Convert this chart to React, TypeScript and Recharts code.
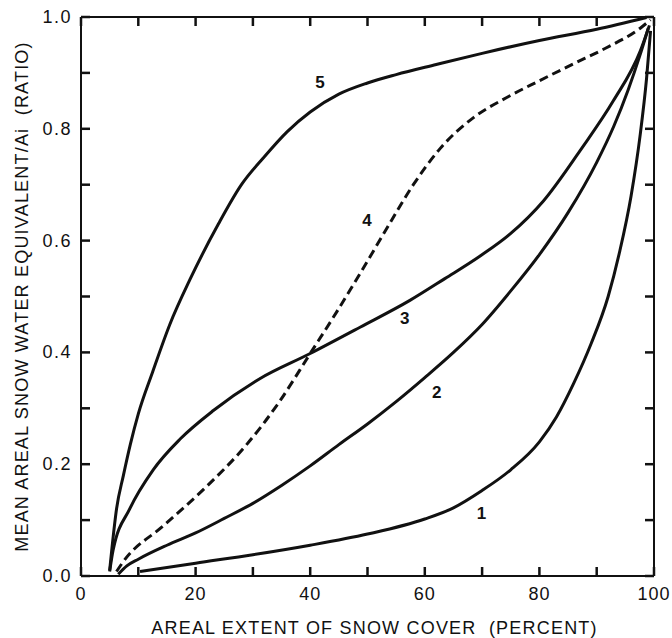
import { ComposedChart, Line, Scatter, XAxis, YAxis } from 'recharts';

// curve points: [areal extent %, ratio]
const curve1 = [
  [10.3, 0.008], [20, 0.023], [30, 0.038], [40, 0.055], [50, 0.075], [60, 0.102],
  [65, 0.122], [70, 0.153], [75, 0.19], [80, 0.24], [83, 0.285], [86, 0.345],
  [89, 0.415], [92, 0.5], [94, 0.58], [96, 0.68], [97.6, 0.79], [98.7, 0.89], [99.4, 0.975],
];
const curve2 = [
  [6.5, 0.003], [8, 0.018], [10, 0.03], [15, 0.055], [20, 0.077], [25, 0.103],
  [30, 0.13], [35, 0.162], [40, 0.197], [45, 0.235], [50, 0.272], [55, 0.312],
  [60, 0.355], [65, 0.4], [70, 0.45], [75, 0.51], [80, 0.575], [85, 0.65],
  [90, 0.74], [93, 0.805], [95.5, 0.87], [97.5, 0.93], [99, 0.98],
];
const curve3 = [
  [5, 0.008], [5.6, 0.046], [8.5, 0.12], [12.6, 0.19], [17.3, 0.245], [23.1, 0.296],
  [31.2, 0.353], [40, 0.398], [48.7, 0.445], [57.4, 0.493], [63.5, 0.532], [69.6, 0.572],
  [74.9, 0.612], [80.7, 0.671], [87.1, 0.761], [92.9, 0.85], [97.6, 0.939], [99.2, 0.985],
];
const curve4 = [
  [6.2, 0.008], [7.4, 0.026], [14.4, 0.09], [21.9, 0.16], [28.9, 0.235], [34.5, 0.31],
  [40, 0.398], [44.6, 0.472], [48.7, 0.541], [52.8, 0.612], [58, 0.7], [62.7, 0.765],
  [68.5, 0.82], [74.3, 0.856], [80, 0.886], [85.9, 0.916], [91.7, 0.945], [97.6, 0.98],
  [99.4, 0.995],
];
const curve5 = [
  [5, 0.01], [5.4, 0.05], [6.2, 0.12], [7.4, 0.18], [8.6, 0.235], [10, 0.29],
  [12.5, 0.365], [15.5, 0.45], [19, 0.53], [24, 0.63], [28, 0.7], [32, 0.75],
  [36, 0.795], [40, 0.83], [45, 0.862], [50, 0.882], [55, 0.897], [62, 0.915],
  [70, 0.935], [80, 0.958], [90, 0.978], [98.7, 0.999],
];
const curveNames = ['1', '2', '3', '4', '5'];
const labelPos = [[69.9, 0.112], [62.1, 0.329], [56.5, 0.46], [49.9, 0.636], [41.7, 0.882]];

const xTicks = [0, 10, 20, 30, 40, 50, 60, 70, 80, 90, 100];
const yTicks = [0, 0.1, 0.2, 0.3, 0.4, 0.5, 0.6, 0.7, 0.8, 0.9, 1.0];

const toPts = (arr: number[][]) => arr.map(([x, y]) => ({ x, y }));
const series = [curve1, curve2, curve3, curve4, curve5].map(toPts);
const labels = labelPos.map(([x, y], i) => ({ x, y, name: curveNames[i] }));

const FONT = '"Liberation Sans", Arial, sans-serif';
const INK = '#111';
const TL = 9; // tick length, drawn inward
const TW = 2.5;
const axisLine = { stroke: INK, strokeWidth: 2 };

// side: which way the tick mark points into the plot
function Tick({ x, y, payload, side }: any) {
  const v = payload.value;
  let mark = null;
  let text = null;
  if (side === 'bottom') {
    mark = <line x1={x} y1={y} x2={x} y2={y - TL} stroke={INK} strokeWidth={TW} />;
    if (v % 20 === 0) {
      text = (
        <text x={x} y={y + 18} textAnchor="middle" dominantBaseline="central"
          fontFamily={FONT} fontSize={18} letterSpacing={1} fill={INK}>{v}</text>
      );
    }
  } else if (side === 'top') {
    mark = <line x1={x} y1={y} x2={x} y2={y + TL} stroke={INK} strokeWidth={TW} />;
  } else if (side === 'left') {
    mark = <line x1={x} y1={y} x2={x + TL} y2={y} stroke={INK} strokeWidth={TW} />;
    if (Math.round(v * 10) % 2 === 0) {
      text = (
        <text x={x - 9} y={y} textAnchor="end" dominantBaseline="central"
          fontFamily={FONT} fontSize={18} letterSpacing={1.5} fill={INK}>{v.toFixed(1)}</text>
      );
    }
  } else {
    mark = <line x1={x} y1={y} x2={x - TL} y2={y} stroke={INK} strokeWidth={TW} />;
  }
  return <g>{mark}{text}</g>;
}

function CurveLabel({ cx, cy, payload }: any) {
  return (
    <text x={cx} y={cy} textAnchor="middle" dominantBaseline="central"
      fontFamily={FONT} fontSize={17} fontWeight="bold" fill={INK}>
      {payload.name}
    </text>
  );
}

export default function App() {
  return (
    <div style={{ position: 'absolute', left: 0, top: 0, background: '#fff' }}>
      <ComposedChart width={672} height={638} margin={{ top: 16, right: 0, bottom: 0, left: 0 }}>
        <XAxis
          xAxisId="b"
          dataKey="x"
          type="number"
          domain={[0, 100]}
          ticks={xTicks}
          interval={0}
          height={62}
          tickSize={0}
          tickMargin={0}
          tickLine={false}
          tick={(p: any) => <Tick {...p} side="bottom" />}
          axisLine={axisLine}
          label={{
            content: ({ viewBox }: any) => (
              <text x={viewBox.x + viewBox.width / 2 + 7} y={viewBox.y + 52}
                textAnchor="middle" dominantBaseline="central"
                fontFamily={FONT} fontSize={18} letterSpacing={1.2} fill={INK}>
                AREAL EXTENT OF SNOW COVER{'\u00a0\u00a0'}(PERCENT)
              </text>
            ),
          }}
        />
        <XAxis
          xAxisId="t"
          orientation="top"
          dataKey="x"
          type="number"
          domain={[0, 100]}
          ticks={xTicks}
          interval={0}
          height={1}
          tickSize={0}
          tickMargin={0}
          tickLine={false}
          tick={(p: any) => <Tick {...p} side="top" />}
          axisLine={axisLine}
        />
        <YAxis
          yAxisId="l"
          type="number"
          domain={[0, 1]}
          ticks={yTicks}
          interval={0}
          width={81}
          tickSize={0}
          tickMargin={0}
          tickLine={false}
          tick={(p: any) => <Tick {...p} side="left" />}
          axisLine={axisLine}
          label={{
            content: ({ viewBox }: any) => {
              const cx = viewBox.x + 22;
              const cy = viewBox.y + viewBox.height / 2;
              return (
                <text x={cx} y={cy} transform={`rotate(-90 ${cx} ${cy})`}
                  textAnchor="middle" dominantBaseline="central"
                  fontFamily={FONT} fontSize={18} letterSpacing={1.2} fill={INK}>
                  MEAN AREAL SNOW WATER EQUIVALENT/Ai{'\u00a0\u00a0'}(RATIO)
                </text>
              );
            },
          }}
        />
        <YAxis
          yAxisId="r"
          orientation="right"
          type="number"
          domain={[0, 1]}
          ticks={yTicks}
          interval={0}
          width={18}
          tickSize={0}
          tickMargin={0}
          tickLine={false}
          tick={(p: any) => <Tick {...p} side="right" />}
          axisLine={axisLine}
        />
        {series.map((pts, i) => (
          <Line
            key={curveNames[i]}
            xAxisId="b"
            yAxisId="l"
            data={pts}
            dataKey="y"
            type="monotone"
            stroke={INK}
            strokeWidth={3}
            strokeDasharray={i === 3 ? '9 5' : undefined}
            dot={false}
            activeDot={false}
            isAnimationActive={false}
          />
        ))}
        {/* labels sit on the top/right axes (same scales) so those axes get their ticks */}
        <Scatter
          xAxisId="t"
          yAxisId="r"
          data={labels}
          dataKey="y"
          shape={(p: any) => <CurveLabel {...p} />}
          isAnimationActive={false}
        />
      </ComposedChart>
    </div>
  );
}
